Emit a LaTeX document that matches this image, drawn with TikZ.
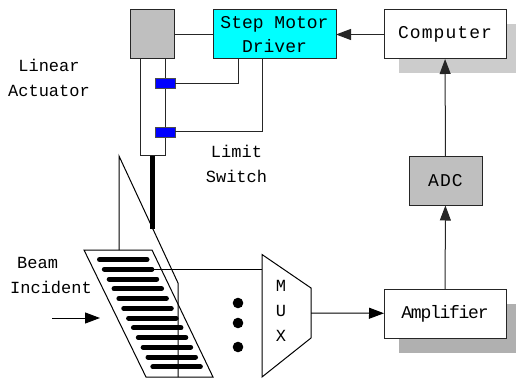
\documentclass[tikz,border=0pt]{standalone}
\usepackage{fontspec}
\setmainfont{Liberation Mono}
\newfontfamily\widefont[LetterSpace=6]{Liberation Mono}
\newfontfamily\tightfont[LetterSpace=-7]{Liberation Mono}
\usetikzlibrary{arrows.meta,positioning,shadows}
\definecolor{drvcyan}{RGB}{0,255,255}
\definecolor{swtblue}{RGB}{0,0,255}

\begin{document}
\begin{tikzpicture}[x=1pt,y=-1pt,
    ln/.style={line width=1pt,black!85},
    arj/.style={ln,-{Triangle[length=15pt,width=11pt]}},
    blk/.style={draw=black!85,line width=1pt,outer sep=0pt,inner sep=0pt,minimum height=49pt,align=center,font=\fontsize{18}{24}\selectfont},
    lbl/.style={inner sep=0pt,font=\fontsize{17}{25}\selectfont},
    swt/.style={draw=black!70,fill=swtblue,line width=0.7pt,outer sep=0pt,minimum width=20pt,minimum height=10pt,inner sep=0pt},
    slat/.style={line width=5pt,line cap=round}]
\useasboundingbox (0,0) rectangle (516,382);
% blocks
\node[blk,fill=white,minimum width=122pt,general shadow={shadow xshift=15pt,shadow yshift=-14.5pt,fill=black!20}] (comp) at (445,34.5) {\widefont Computer};
\node[blk,fill=white,minimum width=122pt,general shadow={shadow xshift=15pt,shadow yshift=-14.5pt,fill=black!31}] (amp) at (445,313.5) {\tightfont Amplifier};
\node[blk,fill=black!25,minimum width=73pt] (adc) at (445.5,181) {\widefont ADC};
\node[blk,fill=drvcyan,minimum width=123pt,left=48pt of comp] (drv) {Step Motor\\Driver};
\node[blk,fill=black!25,minimum width=44pt,left=39pt of drv] (motor) {};
% actuator
\node[draw=black!85,line width=1pt,outer sep=0pt,minimum width=25pt,minimum height=97pt,inner sep=0pt,below=0pt of motor,xshift=0.5pt] (body) {};
\node[swt] (swa) at (165,83.5) {};
\node[swt] (swb) at (165,132) {};
\coordinate (rodtop) at (152.5,156);
\coordinate (rodend) at (152.5,229);
\draw[line width=5pt] (rodtop) -- (rodend);
% connectors at the top
\coordinate (tapa) at (238,59);
\coordinate (tapb) at (262,59);
\draw[ln] (motor) -- (drv);
\draw[ln] (tapa) |- (swa.east);
\draw[ln] (tapb) |- (swb.east);
\draw[arj] (comp) -- (drv);
\draw[arj] (adc) -- (comp);
\draw[arj] (amp) -- (adc);
% grating
\draw[ln,black] (84,250) -- (152,250) -- (213,377) -- (146,377) -- cycle;
\foreach \i in {0,...,11}
    \draw[slat] (99.5+4.85*\i,259.5+9.75*\i) -- (147+4.85*\i,259.5+9.75*\i);
\draw[ln,black] (119,250) -- (119,156) -- (178,283) -- (178,377);
% mux
\coordinate (muxin) at (262,269.5);
\coordinate (muxout) at (311,313);
\coordinate (gratout) at (154,269.5);
\draw[ln,black] (262,254.5) -- (311,288) -- (311,338) -- (262,377) -- cycle;
\draw[ln,black] (gratout) -- (muxin);
\draw[arj,black] (muxout) -- (amp);
\foreach \y in {303,323,347}
    \fill (238,\y) circle (5.3pt);
% labels
\node[lbl,align=center] (mux) at (281,311) {M\\U\\X};
\node[lbl,align=center] (act) at (49,78) {Linear\\Actuator};
\node[lbl,align=center] (lim) at (236.5,164) {Limit\\Switch};
\node[lbl,align=left] (beam) at (51,275.5) {\hspace*{7pt}Beam\\Incident};
\coordinate (beamin) at (52,318);
\coordinate (beamto) at (100,318);
\draw[arj,black] (beamin) -- (beamto);
\end{tikzpicture}
\end{document}
